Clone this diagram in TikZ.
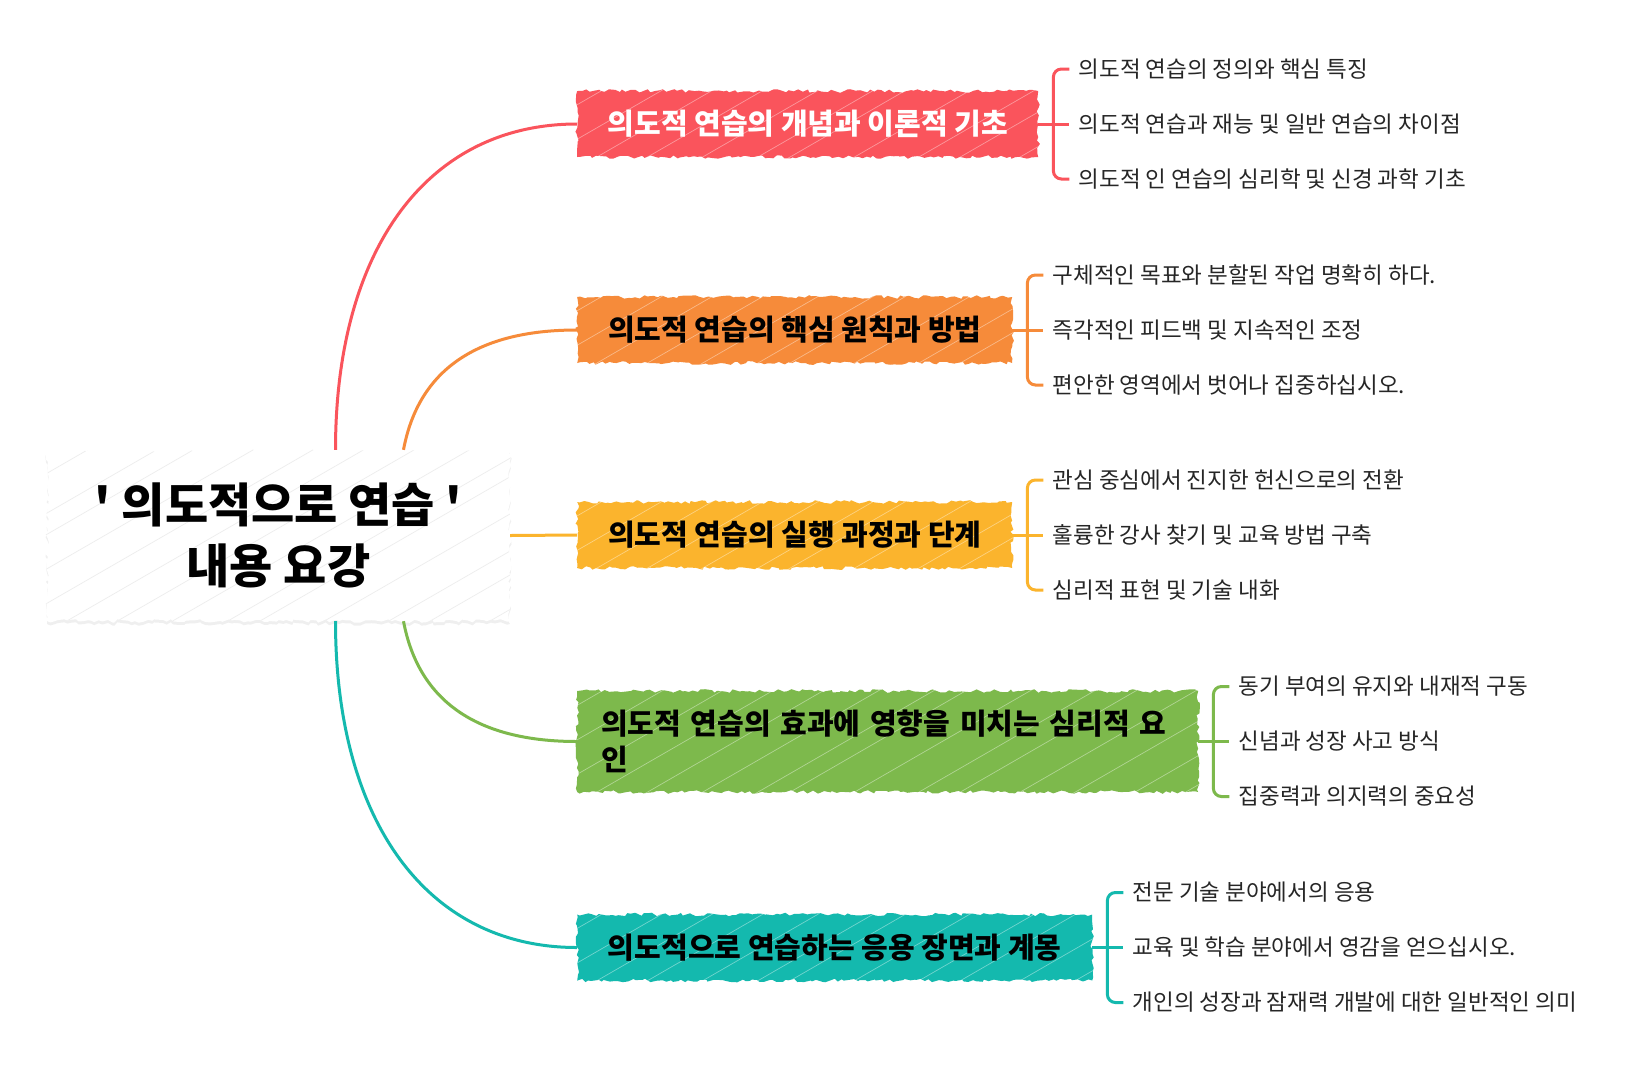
\documentclass[tikz,border=0pt]{standalone}
\usepackage{fontspec}
\setmainfont{Noto Sans CJK KR}
\usetikzlibrary{positioning,decorations.pathmorphing,shadows}

\definecolor{redc}{RGB}{250,84,92}
\definecolor{orangec}{RGB}{246,139,58}
\definecolor{yellowc}{RGB}{251,180,45}
\definecolor{greenc}{RGB}{125,185,76}
\definecolor{tealc}{RGB}{20,185,174}

\tikzset{
  rough/.style={decorate, decoration={random steps, segment length=4pt, amplitude=1.8pt}},
  hatch/.style={path picture={
      \foreach \k in {-7,-5.6,-4.1,-3.3,-2,-0.7,0.4,1.5,2.7,3.9,4.6,6,7.4,8.3,9.6,10.8,12.1,13.2}
        \draw[#1, line width=.7pt] ([xshift=\k*46pt]path picture bounding box.south west) -- ++(300pt,173pt);
  }},
  branch/.style={rough, fill=#1, hatch={white, opacity=.4}, anchor=west, minimum height=66pt,
    inner xsep=27pt, font=\bfseries\fontsize{29}{36}\selectfont},
  kid/.style={anchor=west, inner xsep=9pt, inner ysep=2pt, text=black!85,
    font=\fontsize{22.5}{26}\selectfont},
  limb/.style={draw=#1, line width=3pt},
  twig/.style={draw=#1, line width=3pt, rounded corners=8pt},
}

\begin{document}
\begin{tikzpicture}[x=1pt, y=-1pt]
  \pgfmathsetseed{21}
  \useasboundingbox[fill=white] (0,0) rectangle (1641,1085);

  % -------- CENTRE --------
  \node[rough, fill=white, hatch={black!7},
        drop shadow={shadow xshift=0pt, shadow yshift=-3pt, opacity=.12},
        minimum width=463pt, minimum height=171pt, align=center,
        font=\bfseries\fontsize{47}{61}\selectfont] (title) at (278.5,535.5)
        {\textquotesingle{} 의도적으로 연습 \textquotesingle\\내용 요강};

  % Branch drawing function: name, colour, text colour, centre y, size, title, three leaves
  \newcommand{\drawbranch}[9]{%
      % coloured box
      \node[branch=#2, text=#3, #5] (#1) at (577,#4) {#6};
      % leaves
      \node[kid, right=31pt of #1] (#1-2) {#8};
      \node[kid] (#1-1) at ([yshift=55pt]#1-2.west) {#7};
      \node[kid] (#1-3) at ([yshift=-55pt]#1-2.west) {#9};
      % bracket
      \coordinate (#1-b) at ([xshift=15pt]#1.east);
      \draw[twig=#2] (#1.east) -- (#1-2.west);
      \draw[twig=#2] (#1-1.west) -| (#1-b) |- (#1-3.west);
  }

  % -------- BRANCHES --------
  \drawbranch{red}{redc}{white}{124}{minimum width=461pt}
      {의도적 연습의 개념과 이론적 기초}
      {의도적 연습의 정의와 핵심 특징}
      {의도적 연습과 재능 및 일반 연습의 차이점}
      {의도적 인 연습의 심리학 및 신경 과학 기초}
  \drawbranch{orange}{orangec}{black}{330}{minimum width=435pt}
      {의도적 연습의 핵심 원칙과 방법}
      {구체적인 목표와 분할된 작업 명확히 하다.}
      {즉각적인 피드백 및 지속적인 조정}
      {편안한 영역에서 벗어나 집중하십시오.}
  \drawbranch{yellow}{yellowc}{black}{535}{minimum width=435pt}
      {의도적 연습의 실행 과정과 단계}
      {관심 중심에서 진지한 헌신으로의 전환}
      {훌륭한 강사 찾기 및 교육 방법 구축}
      {심리적 표현 및 기술 내화}
  \drawbranch{green}{greenc}{black}{741.5}{minimum height=101pt, inner xsep=24pt, text width=573pt, align=left}
      {의도적 연습의 효과에 영향을 미치는 심리적 요\\인}
      {동기 부여의 유지와 내재적 구동}
      {신념과 성장 사고 방식}
      {집중력과 의지력의 중요성}
  \drawbranch{teal}{tealc}{black}{947.5}{minimum width=515pt}
      {의도적으로 연습하는 응용 장면과 계몽}
      {전문 기술 분야에서의 응용}
      {교육 및 학습 분야에서 영감을 얻으십시오.}
      {개인의 성장과 잠재력 개발에 대한 일반적인 의미}

  % -------- LIMBS --------
  \draw[limb=redc] ([xshift=57pt]title.north) .. controls +(0,-200) and +(-150,0) .. (red.west);
  \draw[limb=orangec] ([xshift=125pt]title.north) .. controls +(15,-80) and +(-100,0) .. (orange.west);
  \draw[limb=yellowc] (title.east) -- (yellow.west);
  \draw[limb=greenc] ([xshift=125pt]title.south) .. controls +(15,80) and +(-100,0) .. (green.west);
  \draw[limb=tealc] ([xshift=57pt]title.south) .. controls +(0,200) and +(-150,0) .. (teal.west);

\end{tikzpicture}
\end{document}
